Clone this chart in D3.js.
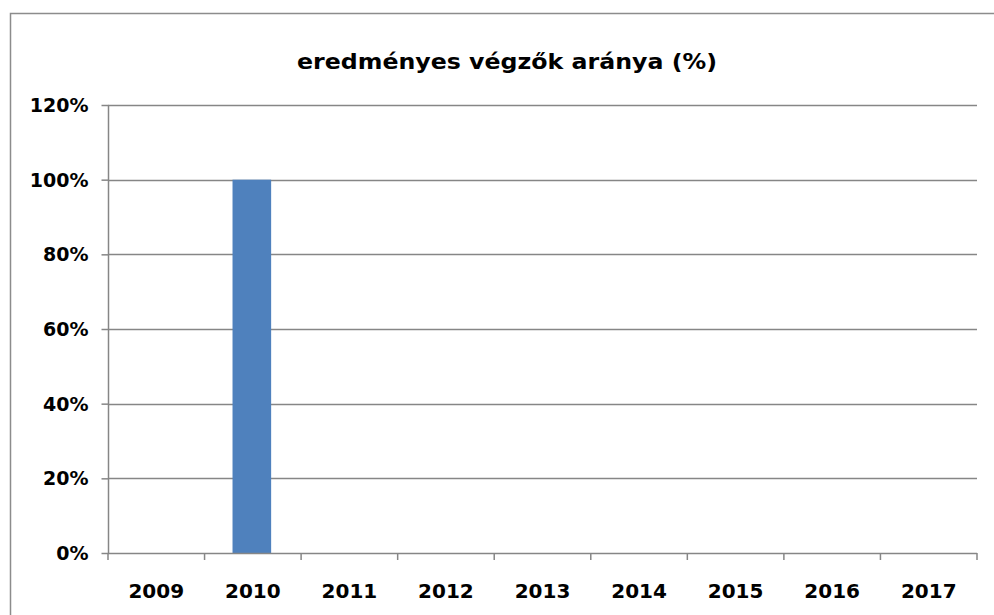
<!DOCTYPE html>
<html><head><meta charset="utf-8">
<script src="https://cdn.jsdelivr.net/npm/d3@7"></script>
<style>body{margin:0;background:#fff;} text{font-family:"DejaVu Sans",Verdana,sans-serif;font-weight:bold;fill:#000;}</style>
</head><body>
<svg id="c" width="994" height="615"></svg>
<script>
const title = "eredményes végzők aránya (%)";
const years = ["2009","2010","2011","2012","2013","2014","2015","2016","2017"];
const values = [null, 1.0, null, null, null, null, null, null, null];
const yTicks = [0, 0.2, 0.4, 0.6, 0.8, 1.0, 1.2];

const svg = d3.select("#c");
const L = 108, R = 977, T = 105, B = 553;

svg.append("rect").attr("x",10.5).attr("y",13.5).attr("width",1000).attr("height",700)
  .attr("fill","#fff").attr("stroke","#8c8c8c").attr("stroke-width",1.5);

const x = d3.scaleBand().domain(years).range([L,R]).paddingInner(0).paddingOuter(0);
const y = d3.scaleLinear().domain([0,1.2]).range([B,T]);

// gridlines
svg.append("g").selectAll("line").data(yTicks.filter(d=>d>0)).join("line")
  .attr("x1",L).attr("x2",R).attr("y1",d=>Math.round(y(d))+0.5).attr("y2",d=>Math.round(y(d))+0.5)
  .attr("stroke","#868686").attr("stroke-width",1.5);

// bars
const bw = x.bandwidth()/2.5;
svg.append("g").selectAll("rect").data(years.map((yr,i)=>({yr,v:values[i]})).filter(d=>d.v!=null)).join("rect")
  .attr("x",d=>x(d.yr)+x.bandwidth()/2-bw/2-1).attr("width",bw)
  .attr("y",d=>y(d.v)).attr("height",d=>y(0)-y(d.v)).attr("fill","#4f81bd");

// y axis
const ya = svg.append("g").attr("transform",`translate(${L+0.5},0)`)
  .call(d3.axisLeft(y).tickValues(yTicks).tickFormat(d=>Math.round(d*100)+"%").tickSize(7).tickPadding(13));
ya.select(".domain").attr("stroke","#868686").attr("stroke-width",1.5).attr("d",`M0,${T}V${B}`);
ya.selectAll(".tick line").attr("stroke","#868686").attr("stroke-width",1.5);
ya.selectAll("text").attr("font-size",19).attr("dy","0.34em").style("font-family",'"DejaVu Sans"').style("font-weight","bold");

// x axis
const xa = svg.append("g").attr("transform",`translate(0,${B+0.5})`)
  .call(d3.axisBottom(x).tickSize(0).tickPadding(32));
xa.select(".domain").attr("stroke","#868686").attr("stroke-width",1.5).attr("d",`M${L},0H${R}`);
xa.selectAll("text").attr("font-size",20).attr("dy","0.6em").style("font-family",'"DejaVu Sans"').style("font-weight","bold");
svg.append("g").selectAll("line").data(d3.range(years.length+1)).join("line")
  .attr("x1",i=>L+i*x.step()).attr("x2",i=>L+i*x.step()).attr("y1",B).attr("y2",B+7)
  .attr("stroke","#868686").attr("stroke-width",1.5);

svg.append("text").attr("x",507).attr("y",69).attr("text-anchor","middle").attr("font-size",21)
  .attr("textLength",420).attr("lengthAdjust","spacingAndGlyphs").text(title);
</script>
</body></html>
